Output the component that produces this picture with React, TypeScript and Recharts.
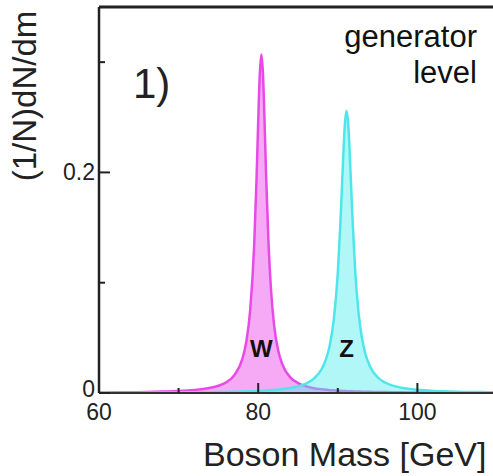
import React from 'react';
import { AreaChart, Area, XAxis, YAxis, ReferenceLine, ReferenceDot } from 'recharts';

// boson mass grid [GeV]
const mass = [
  60, 62, 64, 66, 68, 70, 72, 74, 75, 76, 77, 78, 78.5, 79, 79.5, 79.8, 80, 80.2, 80.4, 80.6,
  80.8, 81, 81.3, 81.6, 82, 82.5, 83, 84, 85, 86, 87, 88, 88.5, 89, 89.5, 90, 90.3, 90.6, 90.9,
  91.1, 91.3, 91.6, 91.9, 92.2, 92.6, 93, 93.5, 94, 95, 96, 97, 98, 100, 102, 104, 106, 108, 110,
];

// (1/N)dN/dm, W line shape
const wValues = [
  0.0005, 0.0006, 0.0007, 0.0009, 0.0013, 0.0018, 0.0028, 0.0047, 0.0066, 0.0098, 0.0161, 0.0307,
  0.0462, 0.0756, 0.135, 0.196, 0.246, 0.289, 0.307, 0.289, 0.246, 0.196, 0.135, 0.0945, 0.0614,
  0.0389, 0.0266, 0.0144, 0.009, 0.0061, 0.0044, 0.0034, 0.003, 0.0026, 0.0024, 0.0021, 0.002,
  0.0019, 0.0018, 0.0017, 0.0016, 0.0016, 0.0015, 0.0014, 0.0013, 0.0012, 0.0011, 0.0011, 0.0009,
  0.0008, 0.0007, 0.0006, 0.0005, 0.0004, 0.00035, 0.0003, 0.00026, 0.00022,
];

// (1/N)dN/dm, Z line shape
const zValues = [
  0.00024, 0.00027, 0.00031, 0.00037, 0.00043, 0.00052, 0.00063, 0.00079, 0.00089, 0.001, 0.0012,
  0.0013, 0.0015, 0.0016, 0.0017, 0.0018, 0.0019, 0.0019, 0.002, 0.0021, 0.0022, 0.0022, 0.0024,
  0.0025, 0.0028, 0.0031, 0.0035, 0.0045, 0.0061, 0.0086, 0.0131, 0.022, 0.0302, 0.0435, 0.0667,
  0.109, 0.15, 0.2, 0.245, 0.256, 0.245, 0.2, 0.15, 0.109, 0.0733, 0.0512, 0.0347, 0.0248, 0.0143,
  0.0093, 0.0065, 0.0048, 0.0029, 0.0019, 0.0014, 0.001, 0.0008, 0.0006,
];

const xTicks = [60, 70, 80, 90, 100, 110];
const xLabelled = [60, 80, 100];
const yTicks = [0, 0.1, 0.2, 0.3];
const yLabelled = [0, 0.2];

const data = mass.map((m, i) => ({ m, W: wValues[i], Z: zValues[i] }));

const FONT = '"Liberation Sans", Arial, sans-serif';
const tickText = { fontSize: 23, fontFamily: FONT, fill: '#222' };

// ticks point into the plot, labels only on the major ones
const XTick = (props: any) => {
  const { x, y, payload } = props;
  const major = xLabelled.includes(payload.value);
  return (
    <g>
      <line x1={x} x2={x} y1={y} y2={y - (major ? 10 : 5)} stroke="#222" strokeWidth={2} />
      {major && (
        <text x={x} y={y + 27} textAnchor="middle" style={tickText}>
          {payload.value}
        </text>
      )}
    </g>
  );
};

const YTick = (props: any) => {
  const { x, y, payload } = props;
  const major = yLabelled.includes(payload.value);
  // the zero label sits a little higher so it clears the "60" below it
  const dy = payload.value === 0 ? 4 : 8;
  return (
    <g>
      <line x1={x} x2={x + (major ? 11 : 6)} y1={y} y2={y} stroke="#222" strokeWidth={2} />
      {major && (
        <text x={x - 4} y={y + dy} textAnchor="end" style={tickText}>
          {payload.value}
        </text>
      )}
    </g>
  );
};

export default function App() {
  return (
    <div style={{ position: 'absolute', left: 0, top: 0, width: 493, height: 476, overflow: 'hidden', background: '#fff' }}>
      <AreaChart width={497} height={476} data={data} margin={{ top: 7, right: 0, left: 59, bottom: 53 }}>
        <Area
          type="monotone"
          dataKey="W"
          stroke="#e84ae8"
          strokeWidth={2.5}
          fill="#ee55ee"
          fillOpacity={0.5}
          isAnimationActive={false}
        />
        <Area
          type="monotone"
          dataKey="Z"
          stroke="#4fe6ea"
          strokeWidth={2.5}
          fill="#55eeee"
          fillOpacity={0.45}
          isAnimationActive={false}
        />
        <XAxis
          dataKey="m"
          type="number"
          domain={[60, 110]}
          ticks={xTicks}
          height={30}
          tickSize={0}
          tickMargin={0}
          tickLine={false}
          tick={(p: any) => <XTick {...p} />}
          axisLine={{ stroke: '#333', strokeWidth: 2 }}
          interval={0}
        />
        <YAxis
          type="number"
          domain={[0, 0.35]}
          ticks={yTicks}
          width={40}
          tickSize={0}
          tickMargin={0}
          tickLine={false}
          tick={(p: any) => <YTick {...p} />}
          axisLine={{ stroke: '#222', strokeWidth: 2.5 }}
          interval={0}
        />
        <ReferenceLine y={0.35} stroke="#222" strokeWidth={3} />
        <ReferenceDot
          x={80.4}
          y={0.04}
          r={0}
          label={{ value: 'W', position: 'center', fontSize: 24, fontWeight: 'bold', fill: '#111', fontFamily: FONT }}
        />
        <ReferenceDot
          x={91.1}
          y={0.04}
          r={0}
          label={{ value: 'Z', position: 'center', fontSize: 24, fontWeight: 'bold', fill: '#111', fontFamily: FONT }}
        />
      </AreaChart>
      <svg width={493} height={476} style={{ position: 'absolute', left: 0, top: 0, pointerEvents: 'none' }}>
        <text x={36} y={96} transform="rotate(-90 36 96)" textAnchor="middle" fontSize={33} fill="#222" fontFamily={FONT}>
          (1/N)dN/dm
        </text>
        <text x={133} y={98} fontSize={42} fill="#222" fontFamily={FONT}>1)</text>
        <text x={477} y={47} textAnchor="end" fontSize={31} fill="#111" fontFamily={FONT}>generator</text>
        <text x={477} y={83} textAnchor="end" fontSize={31} fill="#111" fontFamily={FONT}>level</text>
        <text x={203} y={466} fontSize={34} fill="#222" fontFamily={FONT}>Boson Mass [GeV]</text>
      </svg>
    </div>
  );
}
